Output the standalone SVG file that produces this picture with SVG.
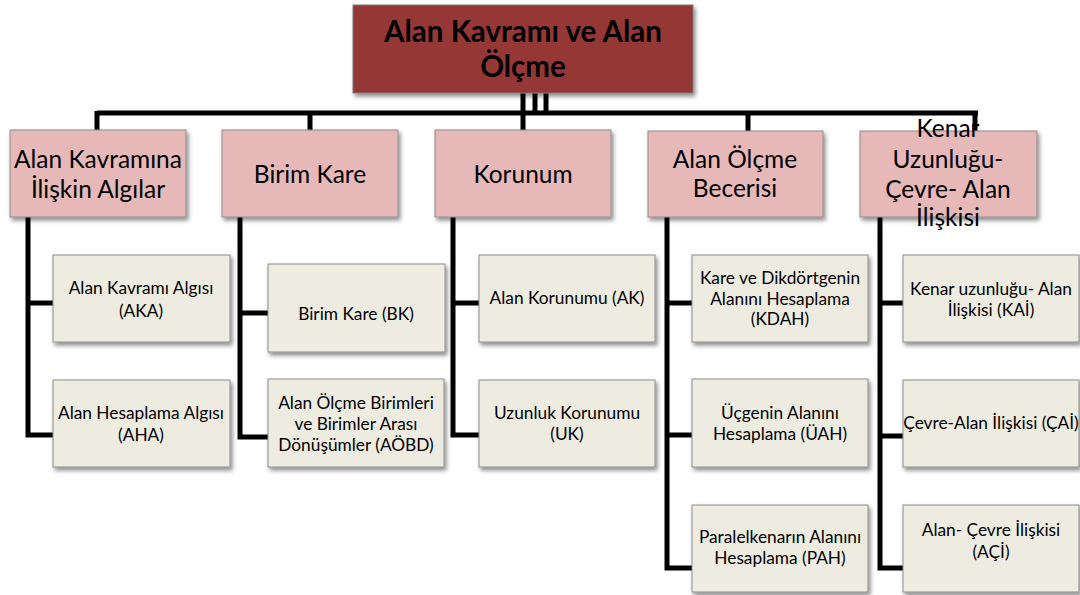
<svg xmlns="http://www.w3.org/2000/svg" width="1080" height="595" viewBox="0 0 1080 595">
  <defs>
    <filter id="shadow" x="-10%" y="-10%" width="130%" height="140%">
      <feDropShadow dx="2" dy="3" stdDeviation="2" flood-color="#000" flood-opacity="0.45"/>
    </filter>
  </defs>
  <style>
    .root { fill: #953735; stroke: #7a7a7a; stroke-width: 1; filter: url(#shadow); }
    .cat  { fill: #e6b9b8; stroke: #8c8c8c; stroke-width: 1; filter: url(#shadow); }
    .leaf { fill: #eeece1; stroke: #8c8c8c; stroke-width: 1; filter: url(#shadow); }
    .wire { fill: none; stroke: #000; stroke-width: 5; }
    text { font-family: Lato, "Liberation Sans", sans-serif; fill: #000; text-anchor: middle; }
    .t0 { font-size: 29.5px; font-weight: bold; }
    .t1 { font-size: 24.5px; }
    .t2 { font-size: 17.3px; }
  </style>

  <rect width="1080" height="595" fill="#fff"/>

  <!-- connectors -->
  <g id="connectors">
    <path class="wire" d="M523,93 V113 M535,93 V113 M546,93 V113"/>
    <path class="wire" d="M97,113 H978"/>
    <path class="wire" d="M97,111 V130 M310,111 V130 M523,111 V130 M748,111 V131 M975,111 V131"/>
    <!-- column 1 -->
    <path class="wire" d="M28,217 V435 H53 M28,303 H53"/>
    <!-- column 2 -->
    <path class="wire" d="M240,217 V437 H268 M240,313 H268"/>
    <!-- column 3 -->
    <path class="wire" d="M453,217 V435 H479 M453,303 H479"/>
    <!-- column 4 -->
    <path class="wire" d="M667,217 V568 H692 M667,303 H692 M667,435 H692"/>
    <!-- column 5 -->
    <path class="wire" d="M880,217 V568 H903 M880,303 H903 M880,436 H903"/>
  </g>

  <!-- root -->
  <g id="root">
    <rect class="root" x="353" y="5" width="340" height="88"/>
    <text class="t0" x="523" y="42">Alan Kavramı ve Alan</text>
    <text class="t0" x="523" y="77">Ölçme</text>
  </g>

  <!-- categories -->
  <g id="cat-algi">
    <rect class="cat" x="10" y="130" width="176" height="87"/>
    <text class="t1" x="98" y="168">Alan Kavramına</text>
    <text class="t1" x="98" y="198">İlişkin Algılar</text>
  </g>
  <g id="cat-birim">
    <rect class="cat" x="222" y="130" width="176" height="87"/>
    <text class="t1" x="310" y="183">Birim Kare</text>
  </g>
  <g id="cat-korunum">
    <rect class="cat" x="435" y="130" width="176" height="87"/>
    <text class="t1" x="523" y="183">Korunum</text>
  </g>
  <g id="cat-olcme">
    <rect class="cat" x="648" y="131" width="175" height="86"/>
    <text class="t1" x="735" y="168">Alan Ölçme</text>
    <text class="t1" x="735" y="197">Becerisi</text>
  </g>
  <g id="cat-iliski">
    <rect class="cat" x="860" y="131" width="177" height="86"/>
    <text class="t1" x="948" y="137">Kenar</text>
    <text class="t1" x="948" y="168">Uzunluğu-</text>
    <text class="t1" x="948" y="198">Çevre- Alan</text>
    <text class="t1" x="948" y="226">İlişkisi</text>
  </g>

  <!-- leaves: column 1 -->
  <g id="leaf-aka">
    <rect class="leaf" x="53" y="255" width="177" height="87"/>
    <text class="t2" x="141" y="294">Alan Kavramı Algısı</text>
    <text class="t2" x="141" y="317">(AKA)</text>
  </g>
  <g id="leaf-aha">
    <rect class="leaf" x="53" y="380" width="177" height="87"/>
    <text class="t2" x="141" y="419">Alan Hesaplama Algısı</text>
    <text class="t2" x="141" y="441">(AHA)</text>
  </g>

  <!-- leaves: column 2 -->
  <g id="leaf-bk">
    <rect class="leaf" x="268" y="264" width="177" height="88"/>
    <text class="t2" x="356" y="320">Birim Kare (BK)</text>
  </g>
  <g id="leaf-aobd">
    <rect class="leaf" x="268" y="379" width="176" height="88"/>
    <text class="t2" x="356" y="409">Alan Ölçme Birimleri</text>
    <text class="t2" x="356" y="430">ve Birimler Arası</text>
    <text class="t2" x="356" y="451">Dönüşümler (AÖBD)</text>
  </g>

  <!-- leaves: column 3 -->
  <g id="leaf-ak">
    <rect class="leaf" x="479" y="255" width="176" height="87"/>
    <text class="t2" x="567" y="304">Alan Korunumu (AK)</text>
  </g>
  <g id="leaf-uk">
    <rect class="leaf" x="479" y="380" width="176" height="87"/>
    <text class="t2" x="567" y="419">Uzunluk Korunumu</text>
    <text class="t2" x="567" y="440">(UK)</text>
  </g>

  <!-- leaves: column 4 -->
  <g id="leaf-kdah">
    <rect class="leaf" x="692" y="255" width="176" height="87"/>
    <text class="t2" x="780" y="284">Kare ve Dikdörtgenin</text>
    <text class="t2" x="780" y="305">Alanını Hesaplama</text>
    <text class="t2" x="780" y="325">(KDAH)</text>
  </g>
  <g id="leaf-uah">
    <rect class="leaf" x="692" y="379" width="176" height="88"/>
    <text class="t2" x="780" y="419">Üçgenin Alanını</text>
    <text class="t2" x="780" y="440">Hesaplama (ÜAH)</text>
  </g>
  <g id="leaf-pah">
    <rect class="leaf" x="692" y="505" width="176" height="87"/>
    <text class="t2" x="780" y="543">Paralelkenarın Alanını</text>
    <text class="t2" x="780" y="564">Hesaplama (PAH)</text>
  </g>

  <!-- leaves: column 5 -->
  <g id="leaf-kai">
    <rect class="leaf" x="903" y="255" width="176" height="87"/>
    <text class="t2" x="991" y="295">Kenar uzunluğu- Alan</text>
    <text class="t2" x="991" y="316">İlişkisi (KAİ)</text>
  </g>
  <g id="leaf-cai">
    <rect class="leaf" x="903" y="380" width="176" height="87"/>
    <text class="t2" x="991" y="429">Çevre-Alan İlişkisi (ÇAİ)</text>
  </g>
  <g id="leaf-aci">
    <rect class="leaf" x="903" y="505" width="176" height="87"/>
    <text class="t2" x="991" y="536">Alan- Çevre İlişkisi</text>
    <text class="t2" x="991" y="558">(AÇİ)</text>
  </g>
</svg>
